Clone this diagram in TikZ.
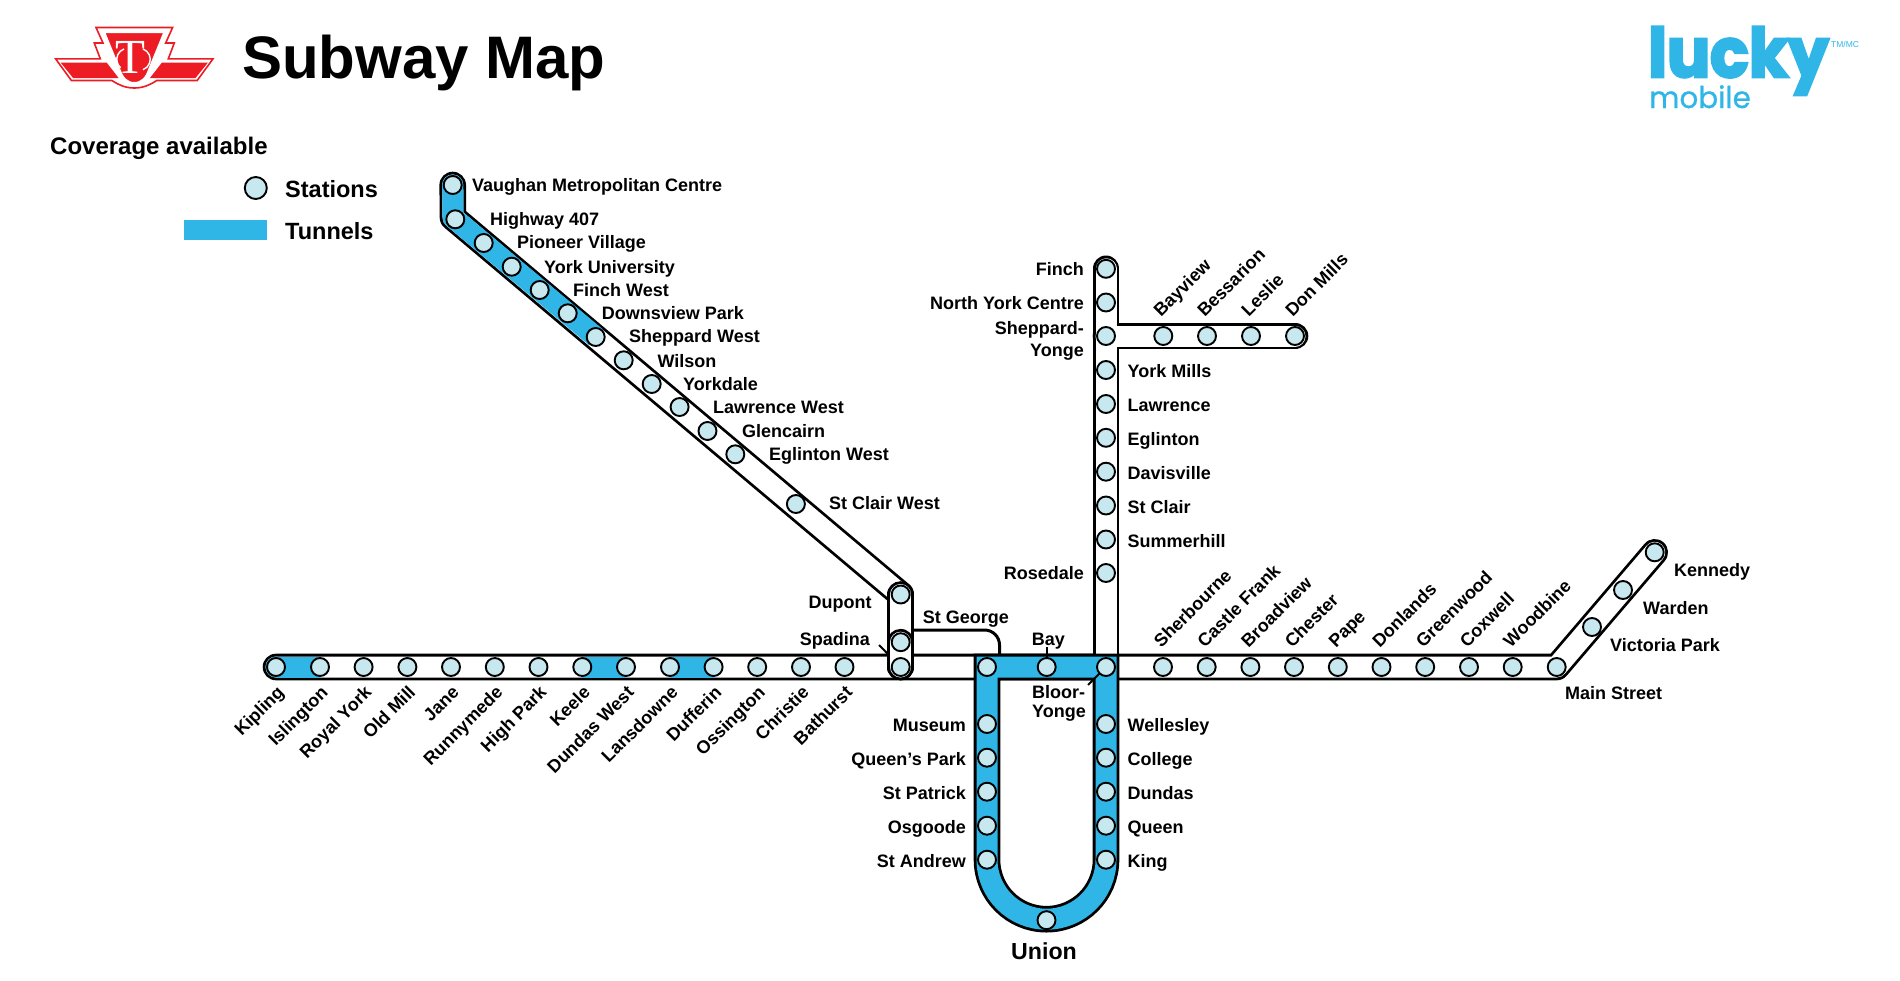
\documentclass[tikz,border=0pt]{standalone}
\usepackage{fontspec}
\setmainfont{Liberation Sans}
\newfontfamily\luckyfont[FakeBold=4]{Poppins}
\newfontfamily\mobilefont[FakeBold=0.8]{Poppins}
\newfontfamily\logofont{Liberation Serif}
\usetikzlibrary{positioning}
\pgfdeclarelayer{tubes}
\pgfsetlayers{tubes,main}
\definecolor{tunnelblue}{HTML}{2FB6E6}
\definecolor{stationfill}{HTML}{C8E8EF}
\definecolor{ttcred}{HTML}{ED1C24}
\tikzset{
station/.style={circle,draw=black,line width=1.9pt,fill=stationfill,minimum size=18pt,inner sep=0pt},
namebase/.style={font=\bfseries\fontsize{18}{22.5}\selectfont,inner sep=0pt,text=black},
stopname/.style={namebase,text height=13pt,text depth=0pt},
tubeout/.style={line width=26.6pt,black,line cap=round,line join=round},
tubein/.style={line width=21pt,white,line cap=round,line join=round},
tunnel/.style={line width=21pt,tunnelblue,line join=round},
tick/.style={line width=2pt,black},
legendname/.style={font=\bfseries\fontsize{23.5}{26}\selectfont,inner sep=0pt,text height=17pt,text depth=0pt,anchor=west},
}
\begin{document}
\begin{tikzpicture}[x=1pt,y=1pt]
\useasboundingbox (0,0) rectangle (1900,-980);
% logo
\draw[ttcred,line width=1.6pt,fill=white] (96,-27.5) -- (172.6,-27.5) -- (165.7,-43) -- (174.3,-43) -- (168.3,-58.8) -- (213,-58.8) -- (197.2,-80.5) -- (156.7,-80.5)
    .. controls (150,-85) and (143,-88) .. (134.3,-88) .. controls (125.6,-88) and (118.6,-85) .. (112,-80.5) -- (71.4,-80.5) -- (55.6,-58.8) -- (100.3,-58.8) -- (94.3,-43) -- (103,-43) -- cycle;
\fill[ttcred] (162,-62.5) -- (208,-62.5) -- (195.5,-78) -- (150,-78) -- cycle;
\fill[ttcred] (106.6,-62.5) -- (60.6,-62.5) -- (73.1,-78) -- (118.6,-78) -- cycle;
\path[fill=ttcred,draw=white,line width=4pt] (102.6,-31) -- (166,-31) -- (150,-70) .. controls (147,-79) and (142,-84) .. (134.3,-84) .. controls (126.6,-84) and (121.6,-79) .. (118.6,-70) -- cycle;
\node[inner sep=0pt,text=white,font=\logofont\fontsize{49}{49}\selectfont] (logot) at (130.5,-57) {T};
\draw[white,line width=1.4pt] (143,-49) arc[start angle=70,end angle=-70,radius=11];
\draw[white,line width=1.4pt] (124,-49) arc[start angle=110,end angle=230,radius=11];
% title
\node[anchor=base west,inner sep=0pt,font=\bfseries\fontsize{60}{60}\selectfont] (title) at (242,-78.5) {Subway Map};
% lucky
\node[anchor=base west,inner sep=0pt,text=tunnelblue,xscale=0.94,font=\luckyfont\bfseries\fontsize{68}{68}\selectfont] (lucky) at (1648,-77) {lucky};
\node[anchor=base west,inner sep=0pt,text=tunnelblue,xscale=0.98,font=\mobilefont\fontsize{30}{30}\selectfont] (mobile) at (1649,-108) {mobile};
\node[anchor=base west,inner sep=0pt,text=tunnelblue,font=\fontsize{8.5}{8.5}\selectfont] (tmmc) at (1831,-47) {TM/MC};
% legend
\node[anchor=base west,inner sep=0pt,font=\bfseries\fontsize{24}{26}\selectfont] (coverage) at (50,-154) {Coverage available};
\node[station,minimum size=22pt] (legendstation) at (255.8,-188) {};
\node[legendname] (legendstations) at (285,-189) {Stations};
\node[fill=tunnelblue,inner sep=0pt,minimum width=83pt,minimum height=20.7pt] (legendtunnel) at (225.2,-230) {};
\node[legendname] (legendtunnels) at (285,-231) {Tunnels};
% stations with rotated names, bloor west
\foreach \x/\id/\txt in {276/kipling/Kipling,320/islington/Islington,363.6/royalyork/Royal York,407.4/oldmill/Old Mill,451/jane/Jane,494.8/runnymede/Runnymede,538.5/highpark/High Park,582.3/keele/Keele,626/dundaswest/Dundas West,670/lansdowne/Lansdowne,713.6/dufferin/Dufferin,757.2/ossington/Ossington,801/christie/Christie,844.5/bathurst/Bathurst}{
    \node[station] (\id) at (\x,-667) {};
    \node[stopname,rotate=45,anchor=east] (\id-name) at (\x+4.5,-689) {\txt};
}
% stations with rotated names, bloor east
\foreach \x/\id/\txt in {1163/sherbourne/Sherbourne,1206.7/castlefrank/Castle Frank,1250.4/broadview/Broadview,1294/chester/Chester,1337.8/pape/Pape,1381.5/donlands/Donlands,1425.2/greenwood/Greenwood,1469/coxwell/Coxwell,1512.7/woodbine/Woodbine}{
    \node[station] (\id) at (\x,-667) {};
    \node[stopname,rotate=45,anchor=west] (\id-name) at (\x-6.5,-644) {\txt};
}
% sheppard
\foreach \x/\id/\txt in {1163.3/bayview/Bayview,1207/bessarion/Bessarion,1251/leslie/Leslie,1295/donmills/Don Mills}{
    \node[station] (\id) at (\x,-336) {};
    \node[stopname,rotate=45,anchor=west] (\id-name) at (\x-7,-313) {\txt};
}
% spadina line, names on the right
\foreach \x/\y/\id/\txt/\nx/\ny in {452.7/185/vaughan/Vaughan Metropolitan Centre/472/185,455.3/219.3/highway/Highway 407/490/218.5,483.7/243/pioneer/Pioneer Village/517/242,511.7/266.7/yorku/York University/544/266.7,539.7/290/finchwest/Finch West/573/290,567.7/313.3/downsview/Downsview Park/601.7/312.7,595.7/337/sheppardwest/Sheppard West/629/335.7,623.7/360.3/wilson/Wilson/657.3/361,651.7/384/yorkdale/Yorkdale/683/384,679.6/407/lawrencewest/Lawrence West/713/407,707.5/431/glencairn/Glencairn/742/431,735.3/454.3/eglintonwest/Eglinton West/769/454,795.9/504/stclairwest/St Clair West/829/503}{
    \node[station] (\id) at (\x,-\y) {};
    \node[stopname,anchor=west] (\id-name) at (\nx,-\ny) {\txt};
}
% yonge north
\foreach \y/\id/\txt in {370/yorkmills/York Mills,404/lawrence/Lawrence,437.8/eglinton/Eglinton,471.7/davisville/Davisville,505.5/stclair/St Clair,539.5/summerhill/Summerhill}{
    \node[station] (\id) at (1106,-\y) {};
    \node[stopname,anchor=west] (\id-name) at (1127.5,-\y-1) {\txt};
}
\foreach \y/\id/\txt in {268.8/finch/Finch,302.5/northyork/North York Centre,573/rosedale/Rosedale}{
    \node[station] (\id) at (1106,-\y) {};
    \node[stopname,anchor=east] (\id-name) at (1084,-\y-0.3) {\txt};
}
\node[station] (sheppardyonge) at (1106,-336) {};
\node[namebase,anchor=north east,align=right] (sheppardyonge-name) at (1084,-321) {Sheppard-\\Yonge};
% university and yonge south
\foreach \y/\l/\ltxt/\r/\rtxt in {724/museum/Museum/wellesley/Wellesley,757.7/queenspark/Queen’s Park/college/College,791.7/stpatrick/St Patrick/dundas/Dundas,825.7/osgoode/Osgoode/queen/Queen,859.7/standrew/St Andrew/king/King}{
    \node[station] (\l) at (987,-\y) {};
    \node[stopname,anchor=east] (\l-name) at (966,-\y-1.3) {\ltxt};
    \node[station] (\r) at (1106,-\y) {};
    \node[stopname,anchor=west] (\r-name) at (1127.5,-\y-1.3) {\rtxt};
}
\node[station] (union) at (1046.5,-920.2) {};
\node[stopname,font=\bfseries\fontsize{23.2}{26}\selectfont,text height=16.5pt] (union-name) at (1044,-951.5) {Union};
% interchange stations
\node[station] (dupont) at (900.7,-594.5) {};
\node[stopname,anchor=east] (dupont-name) at (871.7,-602.3) {Dupont};
\node[station] (stgeorge) at (900.7,-642.2) {};
\node[stopname,anchor=west] (stgeorge-name) at (922.7,-617.3) {St George};
\node[station] (spadina) at (900.7,-667) {};
\node[stopname,anchor=east] (spadina-name) at (870,-639.3) {Spadina};
\node[station] (junction) at (987,-667) {};
\node[station] (bay) at (1046.7,-667) {};
\node[stopname] (bay-name) at (1048.3,-639.3) {Bay};
\node[station] (bloor) at (1106,-667) {};
\node[namebase,anchor=north west,align=left,font=\bfseries\fontsize{18}{19}\selectfont] (bloor-name) at (1032,-685) {Bloor-\\Yonge};
% scarborough
\node[station] (mainstreet) at (1556.7,-667) {};
\node[stopname,anchor=west] (mainstreet-name) at (1565,-692.7) {Main Street};
\node[station] (victoriapark) at (1592,-627) {};
\node[stopname,anchor=west] (victoriapark-name) at (1610,-645) {Victoria Park};
\node[station] (warden) at (1623,-590) {};
\node[stopname,anchor=west] (warden-name) at (1643,-607.7) {Warden};
\node[station] (kennedy) at (1654.7,-552.3) {};
\node[stopname,anchor=west] (kennedy-name) at (1674,-570) {Kennedy};
% free ends
\coordinate (bend407) at (453,-217.5);
\coordinate (loopcorner) at (999.5,-630);
\coordinate (loopend) at (999.5,-654);
\coordinate (spadinatick) at (879,-645);
\coordinate (baytick) at (1046.7,-647);
\coordinate (bloortick) at (1088,-685);
\begin{pgfonlayer}{tubes}
    \draw[line width=3pt,rounded corners=15pt] (stgeorge.center |- loopcorner) -- (loopcorner) -- (loopend);
    \draw[tubeout] (vaughan.center) -- (bend407) -- (dupont.center);
    \draw[tubeout] (kipling.center) -- (mainstreet.center) -- (kennedy.center);
    \draw[tubeout] (finch.center) -- (bloor.center);
    \draw[tubeout] (sheppardyonge.center) -- (donmills.center);
    \draw[tubein] (vaughan.center) -- (bend407) -- (dupont.center);
    \draw[tubein] (kipling.center) -- (mainstreet.center) -- (kennedy.center);
    \draw[tubein] (finch.center) -- (bloor.center);
    \draw[tubein] (sheppardyonge.center) -- (donmills.center);
    % tunnels
    \fill[tunnelblue] (kipling.center) circle (10.5pt);
    \draw[tunnel] (kipling.center) -- (islington.center);
    \draw[tunnel] (keele.center) -- (dundaswest.center);
    \draw[tunnel] (lansdowne.center) -- (dufferin.center);
    \fill[tunnelblue] (vaughan.center) circle (10.5pt);
    \draw[tunnel] (vaughan.center) -- (bend407) -- (sheppardwest.center);
    \draw[line width=26.6pt,black,line join=miter] (junction.center) -- (standrew.center) arc[start angle=180,end angle=360,radius=59.5pt] -- (bloor.center) -- cycle;
    \draw[line width=21pt,tunnelblue,line join=miter] (junction.center) -- (standrew.center) arc[start angle=180,end angle=360,radius=59.5pt] -- (bloor.center) -- cycle;
    % ticks
    \draw[tick] (bay.center) -- (baytick);
    \draw[tick] (bloor.center) -- (bloortick);
    \draw[tick] (spadina.center) -- (spadinatick);
    % spadina capsules
    \draw[tubeout] (dupont.center) -- (spadina.center);
    \draw[tubein] (dupont.center) -- (spadina.center);
    \draw[tubeout] (stgeorge.center) -- (spadina.center);
    \draw[tubein] (stgeorge.center) -- (spadina.center);
\end{pgfonlayer}
\end{tikzpicture}
\end{document}
